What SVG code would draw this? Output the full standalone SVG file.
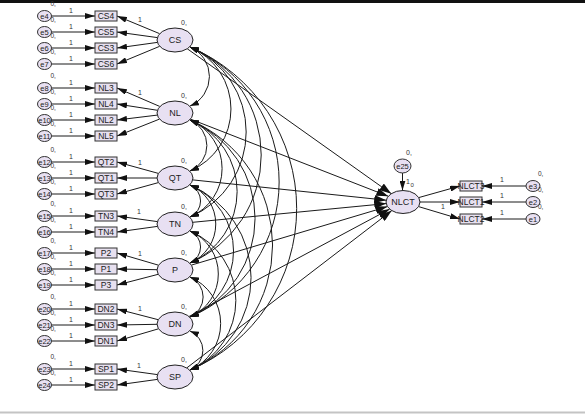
<svg xmlns="http://www.w3.org/2000/svg" width="585" height="414" viewBox="0 0 585 414">
<style>
.ln{stroke:#1a1a1a;stroke-width:1;fill:none}
.arr{marker-end:url(#ah)}
.arrL{marker-end:url(#ahL)}
.cov{marker-start:url(#ah2);marker-end:url(#ah2)}
.lat{fill:#e8e0f2;stroke:#222;stroke-width:1}
.box{fill:#e7e0ef;stroke:#333;stroke-width:1}
.err{fill:#e8e0f2;stroke:#333;stroke-width:1}
.t{font-family:"Liberation Sans",Arial,sans-serif;fill:#222;text-anchor:middle}
.bt{font-size:8.5px}
.lt{font-size:9px}
.et{font-size:7.5px}
.sm{font-family:"Liberation Sans",Arial,sans-serif;font-size:7px;fill:#333}
.z{font-size:6.5px}
</style>
<defs>
<marker id="ah" markerWidth="10" markerHeight="6" refX="10" refY="3" orient="auto" markerUnits="userSpaceOnUse"><path d="M0,0 L10,3 L0,6 z" fill="#111"/></marker>
<marker id="ahL" markerWidth="12" markerHeight="8" refX="12" refY="4" orient="auto" markerUnits="userSpaceOnUse"><path d="M0,0 L12,4 L0,8 z" fill="#111"/></marker>
<marker id="ah2" markerWidth="9" markerHeight="6" refX="9" refY="3" orient="auto-start-reverse" markerUnits="userSpaceOnUse"><path d="M0,0 L9,3 L0,6 z" fill="#111"/></marker>
</defs>
<rect x="0" y="0" width="585" height="414" fill="#fff"/>
<rect x="0" y="0" width="585" height="3" fill="#111"/>
<rect x="0" y="411.5" width="585" height="2" fill="#c4c4c4"/>

<g id="connectors">
<g class="ln arr">
<line x1="51.5" y1="16" x2="95" y2="16"/><line x1="51.5" y1="32" x2="95" y2="32"/><line x1="51.5" y1="48" x2="95" y2="48"/><line x1="51.5" y1="64" x2="95" y2="64"/>
<line x1="51.5" y1="88" x2="95" y2="88"/><line x1="51.5" y1="104" x2="95" y2="104"/><line x1="51.5" y1="120" x2="95" y2="120"/><line x1="51.5" y1="136" x2="95" y2="136"/>
<line x1="51.5" y1="162" x2="95" y2="162"/><line x1="51.5" y1="178" x2="95" y2="178"/><line x1="51.5" y1="194" x2="95" y2="194"/>
<line x1="51.5" y1="216" x2="95" y2="216"/><line x1="51.5" y1="232" x2="95" y2="232"/>
<line x1="51.5" y1="253" x2="95" y2="253"/><line x1="51.5" y1="269" x2="95" y2="269"/><line x1="51.5" y1="285" x2="95" y2="285"/>
<line x1="51.5" y1="309" x2="95" y2="309"/><line x1="51.5" y1="325" x2="95" y2="325"/><line x1="51.5" y1="341" x2="95" y2="341"/>
<line x1="51.5" y1="369" x2="95" y2="369"/><line x1="51.5" y1="385" x2="95" y2="385"/>
<line x1="159.7" y1="33.7" x2="117" y2="16"/><line x1="157.4" y1="37.6" x2="117" y2="32"/><line x1="157.4" y1="42.4" x2="117" y2="48"/><line x1="159.7" y1="46.3" x2="117" y2="64"/>
<line x1="159.9" y1="106.5" x2="117" y2="88"/><line x1="157.5" y1="110.3" x2="117" y2="104"/><line x1="157.3" y1="115.1" x2="117" y2="120"/><line x1="159.5" y1="119.1" x2="117" y2="136"/>
<line x1="158.4" y1="173.4" x2="117" y2="162"/><line x1="157" y1="178" x2="117" y2="178"/><line x1="158.4" y1="182.6" x2="117" y2="194"/>
<line x1="157.4" y1="221.6" x2="117" y2="216"/><line x1="157.4" y1="226.4" x2="117" y2="232"/>
<line x1="158.5" y1="265.2" x2="117" y2="253"/><line x1="157" y1="269.7" x2="117" y2="269"/><line x1="158.2" y1="274.3" x2="117" y2="285"/>
<line x1="158.2" y1="319.7" x2="117" y2="309"/><line x1="157" y1="324.3" x2="117" y2="325"/><line x1="158.5" y1="328.8" x2="117" y2="341"/>
<line x1="157.4" y1="374.6" x2="117" y2="369"/><line x1="157.4" y1="379.4" x2="117" y2="385"/>
<line x1="402.5" y1="173" x2="402.5" y2="190.5"/>
<line x1="418.7" y1="197.6" x2="460" y2="186"/>
<line x1="420" y1="202" x2="460" y2="202"/>
<line x1="418.6" y1="206.6" x2="460" y2="219"/>
<line x1="526" y1="186" x2="482" y2="186"/>
<line x1="526" y1="202" x2="482" y2="202"/>
<line x1="526" y1="219" x2="482" y2="219"/>
</g>
<g class="ln arrL">
<line x1="187.3" y1="48.8" x2="391.3" y2="193.7"/>
<line x1="190.5" y1="119.1" x2="388.3" y2="196.3"/>
<line x1="192.8" y1="179.9" x2="386.2" y2="200.2"/>
<line x1="192.8" y1="222.3" x2="386.2" y2="203.6"/>
<line x1="191.4" y1="265.1" x2="387.4" y2="206.6"/>
<line x1="189" y1="316.5" x2="389.7" y2="209.1"/>
<line x1="186.8" y1="367.9" x2="391.8" y2="210.6"/>
</g>
<g class="ln cov">
<path d="M190,47 A32.1,32.1 0 0 1 190,106"/>
<path d="M190,47 A67.4,67.4 0 0 1 190,171"/>
<path d="M190,47 A92.4,92.4 0 0 1 190,217"/>
<path d="M190,47 A117.5,117.5 0 0 1 190,263"/>
<path d="M190,47 A146.8,146.8 0 0 1 190,317"/>
<path d="M190,47 A175.6,175.6 0 0 1 190,370"/>
<path d="M190,120 A27.7,27.7 0 0 1 190,171"/>
<path d="M190,120 A52.7,52.7 0 0 1 190,217"/>
<path d="M190,120 A77.8,77.8 0 0 1 190,263"/>
<path d="M190,120 A107.1,107.1 0 0 1 190,317"/>
<path d="M190,120 A135.9,135.9 0 0 1 190,370"/>
<path d="M190,185 A17.4,17.4 0 0 1 190,217"/>
<path d="M190,185 A42.4,42.4 0 0 1 190,263"/>
<path d="M190,185 A71.8,71.8 0 0 1 190,317"/>
<path d="M190,185 A100.6,100.6 0 0 1 190,370"/>
<path d="M190,231 A17.4,17.4 0 0 1 190,263"/>
<path d="M190,231 A46.8,46.8 0 0 1 190,317"/>
<path d="M190,231 A75.6,75.6 0 0 1 190,370"/>
<path d="M190,277 A21.8,21.8 0 0 1 190,317"/>
<path d="M190,277 A50.6,50.6 0 0 1 190,370"/>
<path d="M190,331 A21.2,21.2 0 0 1 190,370"/>
</g>
<g class="sm" text-anchor="middle">
<text x="71" y="12.5">1</text><text x="71" y="28.5">1</text><text x="71" y="44.5">1</text><text x="71" y="60.5">1</text>
<text x="71" y="84.5">1</text><text x="71" y="100.5">1</text><text x="71" y="116.5">1</text><text x="71" y="132.5">1</text>
<text x="71" y="158.5">1</text><text x="71" y="174.5">1</text><text x="71" y="190.5">1</text>
<text x="71" y="212.5">1</text><text x="71" y="228.5">1</text>
<text x="71" y="249.5">1</text><text x="71" y="265.5">1</text><text x="71" y="281.5">1</text>
<text x="71" y="305.5">1</text><text x="71" y="321.5">1</text><text x="71" y="337.5">1</text>
<text x="71" y="365.5">1</text><text x="71" y="381.5">1</text>
<text x="140" y="22">1</text><text x="140" y="95">1</text><text x="140" y="165">1</text><text x="139" y="214">1</text><text x="140" y="256">1</text><text x="140" y="311">1</text><text x="139" y="368">1</text>
<text x="443" y="209">1</text>
<text x="502" y="182">1</text><text x="502" y="198">1</text><text x="502" y="215">1</text>
</g>
</g>

<g id="errors">
<g id="e4"><ellipse class="err" cx="44.5" cy="16" rx="7" ry="5.5"/><text class="t et" x="44.5" y="18.7">e4</text><text class="sm z" x="50.5" y="5.5">0,</text></g>
<g id="e5"><ellipse class="err" cx="44.5" cy="32" rx="7" ry="5.5"/><text class="t et" x="44.5" y="34.7">e5</text><text class="sm z" x="50.5" y="22">0,</text></g>
<g id="e6"><ellipse class="err" cx="44.5" cy="48" rx="7" ry="5.5"/><text class="t et" x="44.5" y="50.7">e6</text><text class="sm z" x="50.5" y="38">0,</text></g>
<g id="e7"><ellipse class="err" cx="44.5" cy="64" rx="7" ry="5.5"/><text class="t et" x="44.5" y="66.7">e7</text><text class="sm z" x="50.5" y="54">0,</text></g>
<g id="e8"><ellipse class="err" cx="44.5" cy="88" rx="7" ry="5.5"/><text class="t et" x="44.5" y="90.7">e8</text><text class="sm z" x="50.5" y="78">0,</text></g>
<g id="e9"><ellipse class="err" cx="44.5" cy="104" rx="7" ry="5.5"/><text class="t et" x="44.5" y="106.7">e9</text><text class="sm z" x="50.5" y="94">0,</text></g>
<g id="e10"><ellipse class="err" cx="44.5" cy="120" rx="7" ry="5.5"/><text class="t et" x="44.5" y="122.7">e10</text><text class="sm z" x="50.5" y="110">0,</text></g>
<g id="e11"><ellipse class="err" cx="44.5" cy="136" rx="7" ry="5.5"/><text class="t et" x="44.5" y="138.7">e11</text><text class="sm z" x="50.5" y="126">0,</text></g>
<g id="e12"><ellipse class="err" cx="44.5" cy="162" rx="7" ry="5.5"/><text class="t et" x="44.5" y="164.7">e12</text><text class="sm z" x="50.5" y="152">0,</text></g>
<g id="e13"><ellipse class="err" cx="44.5" cy="178" rx="7" ry="5.5"/><text class="t et" x="44.5" y="180.7">e13</text><text class="sm z" x="50.5" y="168">0,</text></g>
<g id="e14"><ellipse class="err" cx="44.5" cy="194" rx="7" ry="5.5"/><text class="t et" x="44.5" y="196.7">e14</text><text class="sm z" x="50.5" y="184">0,</text></g>
<g id="e15"><ellipse class="err" cx="44.5" cy="216" rx="7" ry="5.5"/><text class="t et" x="44.5" y="218.7">e15</text><text class="sm z" x="50.5" y="206">0,</text></g>
<g id="e16"><ellipse class="err" cx="44.5" cy="232" rx="7" ry="5.5"/><text class="t et" x="44.5" y="234.7">e16</text><text class="sm z" x="50.5" y="222">0,</text></g>
<g id="e17"><ellipse class="err" cx="44.5" cy="253" rx="7" ry="5.5"/><text class="t et" x="44.5" y="255.7">e17</text><text class="sm z" x="50.5" y="243">0,</text></g>
<g id="e18"><ellipse class="err" cx="44.5" cy="269" rx="7" ry="5.5"/><text class="t et" x="44.5" y="271.7">e18</text><text class="sm z" x="50.5" y="259">0,</text></g>
<g id="e19"><ellipse class="err" cx="44.5" cy="285" rx="7" ry="5.5"/><text class="t et" x="44.5" y="287.7">e19</text><text class="sm z" x="50.5" y="275">0,</text></g>
<g id="e20"><ellipse class="err" cx="44.5" cy="309" rx="7" ry="5.5"/><text class="t et" x="44.5" y="311.7">e20</text><text class="sm z" x="50.5" y="299">0,</text></g>
<g id="e21"><ellipse class="err" cx="44.5" cy="325" rx="7" ry="5.5"/><text class="t et" x="44.5" y="327.7">e21</text><text class="sm z" x="50.5" y="315">0,</text></g>
<g id="e22"><ellipse class="err" cx="44.5" cy="341" rx="7" ry="5.5"/><text class="t et" x="44.5" y="343.7">e22</text><text class="sm z" x="50.5" y="331">0,</text></g>
<g id="e23"><ellipse class="err" cx="44.5" cy="369" rx="7" ry="5.5"/><text class="t et" x="44.5" y="371.7">e23</text><text class="sm z" x="50.5" y="359">0,</text></g>
<g id="e24"><ellipse class="err" cx="44.5" cy="385" rx="7" ry="5.5"/><text class="t et" x="44.5" y="387.7">e24</text><text class="sm z" x="50.5" y="375">0,</text></g>
<g id="e25"><ellipse class="err" cx="402.5" cy="166" rx="8.5" ry="7"/><text class="t et" x="402.5" y="168.7">e25</text><text class="sm" x="406" y="155">0,</text><text class="sm" x="406" y="184">1</text><text class="sm" x="410.5" y="187" style="font-size:6px">0</text></g>
<g id="e3"><ellipse class="err" cx="533" cy="186" rx="7" ry="5.5"/><text class="t et" x="533" y="188.7">e3</text><text class="sm z" x="538" y="176">0,</text></g>
<g id="e2"><ellipse class="err" cx="533" cy="202" rx="7" ry="5.5"/><text class="t et" x="533" y="204.7">e2</text><text class="sm z" x="538" y="192">0,</text></g>
<g id="e1"><ellipse class="err" cx="533" cy="219" rx="7" ry="5.5"/><text class="t et" x="533" y="221.7">e1</text><text class="sm z" x="538" y="209">0,</text></g>
</g>

<g id="indicators">
<g id="CS4"><rect class="box" x="95" y="11" width="22" height="10"/><text class="t bt" x="106" y="19">CS4</text></g>
<g id="CS5"><rect class="box" x="95" y="27" width="22" height="10"/><text class="t bt" x="106" y="35">CS5</text></g>
<g id="CS3"><rect class="box" x="95" y="43" width="22" height="10"/><text class="t bt" x="106" y="51">CS3</text></g>
<g id="CS6"><rect class="box" x="95" y="59" width="22" height="10"/><text class="t bt" x="106" y="67">CS6</text></g>
<g id="NL3"><rect class="box" x="95" y="83" width="22" height="10"/><text class="t bt" x="106" y="91">NL3</text></g>
<g id="NL4"><rect class="box" x="95" y="99" width="22" height="10"/><text class="t bt" x="106" y="107">NL4</text></g>
<g id="NL2"><rect class="box" x="95" y="115" width="22" height="10"/><text class="t bt" x="106" y="123">NL2</text></g>
<g id="NL5"><rect class="box" x="95" y="131" width="22" height="10"/><text class="t bt" x="106" y="139">NL5</text></g>
<g id="QT2"><rect class="box" x="95" y="157" width="22" height="10"/><text class="t bt" x="106" y="165">QT2</text></g>
<g id="QT1"><rect class="box" x="95" y="173" width="22" height="10"/><text class="t bt" x="106" y="181">QT1</text></g>
<g id="QT3"><rect class="box" x="95" y="189" width="22" height="10"/><text class="t bt" x="106" y="197">QT3</text></g>
<g id="TN3"><rect class="box" x="95" y="211" width="22" height="10"/><text class="t bt" x="106" y="219">TN3</text></g>
<g id="TN4"><rect class="box" x="95" y="227" width="22" height="10"/><text class="t bt" x="106" y="235">TN4</text></g>
<g id="P2"><rect class="box" x="95" y="248" width="22" height="10"/><text class="t bt" x="106" y="256">P2</text></g>
<g id="P1"><rect class="box" x="95" y="264" width="22" height="10"/><text class="t bt" x="106" y="272">P1</text></g>
<g id="P3"><rect class="box" x="95" y="280" width="22" height="10"/><text class="t bt" x="106" y="288">P3</text></g>
<g id="DN2"><rect class="box" x="95" y="304" width="22" height="10"/><text class="t bt" x="106" y="312">DN2</text></g>
<g id="DN3"><rect class="box" x="95" y="320" width="22" height="10"/><text class="t bt" x="106" y="328">DN3</text></g>
<g id="DN1"><rect class="box" x="95" y="336" width="22" height="10"/><text class="t bt" x="106" y="344">DN1</text></g>
<g id="SP1"><rect class="box" x="95" y="364" width="22" height="10"/><text class="t bt" x="106" y="372">SP1</text></g>
<g id="SP2"><rect class="box" x="95" y="380" width="22" height="10"/><text class="t bt" x="106" y="388">SP2</text></g>
<g id="NLCT3"><rect class="box" x="460" y="181" width="22" height="10"/><text class="t bt" x="471" y="189">NLCT3</text></g>
<g id="NLCT1"><rect class="box" x="460" y="197" width="22" height="10"/><text class="t bt" x="471" y="205">NLCT1</text></g>
<g id="NLCT2"><rect class="box" x="460" y="214" width="22" height="10"/><text class="t bt" x="471" y="222">NLCT2</text></g>
</g>

<g id="latents">
<g id="CS"><ellipse class="lat" cx="175" cy="40" rx="18" ry="12"/><text class="t lt" x="175" y="43">CS</text><text class="sm" x="181" y="25">0,</text></g>
<g id="NL"><ellipse class="lat" cx="175" cy="113" rx="18" ry="12"/><text class="t lt" x="175" y="116">NL</text><text class="sm" x="181" y="98">0,</text></g>
<g id="QT"><ellipse class="lat" cx="175" cy="178" rx="18" ry="12"/><text class="t lt" x="175" y="181">QT</text><text class="sm" x="181" y="163">0,</text></g>
<g id="TN"><ellipse class="lat" cx="175" cy="224" rx="18" ry="12"/><text class="t lt" x="175" y="227">TN</text><text class="sm" x="181" y="209">0,</text></g>
<g id="P"><ellipse class="lat" cx="175" cy="270" rx="18" ry="12"/><text class="t lt" x="175" y="273">P</text><text class="sm" x="181" y="255">0,</text></g>
<g id="DN"><ellipse class="lat" cx="175" cy="324" rx="18" ry="12"/><text class="t lt" x="175" y="327">DN</text><text class="sm" x="181" y="309">0,</text></g>
<g id="SP"><ellipse class="lat" cx="175" cy="377" rx="18" ry="12"/><text class="t lt" x="175" y="380">SP</text><text class="sm" x="181" y="362">0,</text></g>
<g id="NLCT"><ellipse class="lat" cx="403" cy="202" rx="17" ry="11.5"/><text class="t lt" x="403" y="205">NLCT</text></g>
</g>
</svg>
